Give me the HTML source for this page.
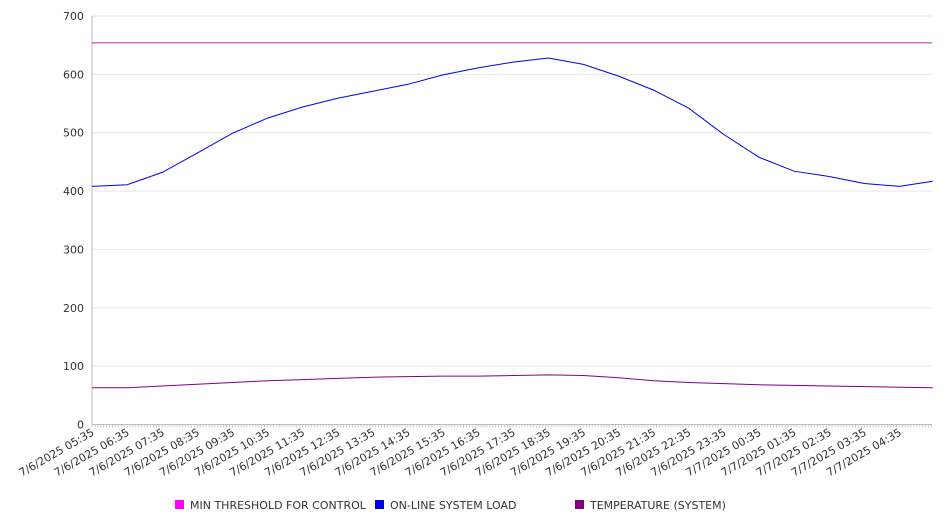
<!DOCTYPE html>
<html><head><meta charset="utf-8"><style>
body{margin:0;background:#fff;}
svg{display:block;font-family:"DejaVu Sans","Liberation Sans",sans-serif;}
</style></head><body>
<svg id="chart" width="946" height="526" xmlns="http://www.w3.org/2000/svg">
<g id="grid"></g>
<g id="axes"></g>
<g id="series"></g>
<g id="legend"></g>
</svg>
<script>
const hours = [0,1,2,3,4,5,6,7,8,9,10,11,12,13,14,15,16,17,18,19,20,21,22,23,23.95];
const loadValues = [408,411,432,465,499,525,544,559,571,583,599,611,621,628,617,597,573,542,497,458,434,425,413,408,417];
const tempValues = [63,63,66,69,72,75,77,79,81,82,83,83,84,85,84,80,75,72,70,68,67,66,65,64,63];
const thresholdValue = 654;
const yTicks = [0,100,200,300,400,500,600,700];
const xTickLabels = ["7/6/2025 05:35","7/6/2025 06:35","7/6/2025 07:35","7/6/2025 08:35","7/6/2025 09:35","7/6/2025 10:35","7/6/2025 11:35","7/6/2025 12:35","7/6/2025 13:35","7/6/2025 14:35","7/6/2025 15:35","7/6/2025 16:35","7/6/2025 17:35","7/6/2025 18:35","7/6/2025 19:35","7/6/2025 20:35","7/6/2025 21:35","7/6/2025 22:35","7/6/2025 23:35","7/7/2025 00:35","7/7/2025 01:35","7/7/2025 02:35","7/7/2025 03:35","7/7/2025 04:35"];
const legendLabels = ["MIN THRESHOLD FOR CONTROL","ON-LINE SYSTEM LOAD","TEMPERATURE (SYSTEM)"];
const legendColors = ["#ff00ff","#0000ee","#800080"];

const NS="http://www.w3.org/2000/svg";
const X0=92,X1=932,Y0=424.5,Y1=16,HMAX=23.93;
const xs=h=>X0+(X1-X0)*h/HMAX;
const ys=v=>Y0-(Y0-Y1)*v/700;
function mk(tag,attrs,parent){const e=document.createElementNS(NS,tag);for(const k in attrs)e.setAttribute(k,attrs[k]);parent.appendChild(e);return e;}
const grid=document.getElementById('grid'),axes=document.getElementById('axes'),series=document.getElementById('series'),legend=document.getElementById('legend');

yTicks.forEach(v=>{
  const l=mk('line',{x1:X0,x2:X1,y1:ys(v),y2:ys(v),stroke:v===0?'#bbb':'#e6e6e6','stroke-width':1},grid);
  
  
  const t=mk('text',{x:X0-8,y:ys(v)+4,'text-anchor':'end','font-size':11,fill:'#333'},axes);
  t.textContent=v;
  
  
});
const ya=mk('line',{x1:X0,x2:X0,y1:Y1,y2:Y0,stroke:'#bbb'},axes);


for(let m=0;m<=HMAX*12;m++){
  const x=xs(m/12);
  const tk=mk('line',{x1:x,x2:x,y1:Y0,y2:Y0+3,stroke:'#ccc'},axes);
  
  
}
xTickLabels.forEach((s,i)=>{
  const x=xs(i)+3,y=Y0+10;
  const t=mk('text',{x:x,y:y,'text-anchor':'end','font-size':11,fill:'#333',transform:`rotate(-30 ${x} ${y})`},axes);
  t.textContent=s;
  
  
});
const th=mk('line',{x1:X0,x2:X1,y1:ys(thresholdValue),y2:ys(thresholdValue),stroke:'#c020c0','stroke-width':1},series);


function path(vals,color,name){
  const d=vals.map((v,i)=>(i?'L':'M')+xs(hours[i]).toFixed(1)+','+ys(v).toFixed(1)).join('');
  const p=mk('path',{d:d,fill:'none',stroke:color,'stroke-width':1},series);
  
  
}
path(loadValues,legendColors[1],'system-load-line');
path(tempValues,legendColors[2],'temperature-line');
const lx=[175,375,575];
legendLabels.forEach((s,i)=>{
  const r=mk('rect',{x:lx[i],y:500,width:9,height:9,fill:legendColors[i]},legend);
  
  
  const t=mk('text',{x:lx[i]+15,y:509,'font-size':11,fill:'#333'},legend);
  t.textContent=s;
  
  
});
</script>
</body></html>
